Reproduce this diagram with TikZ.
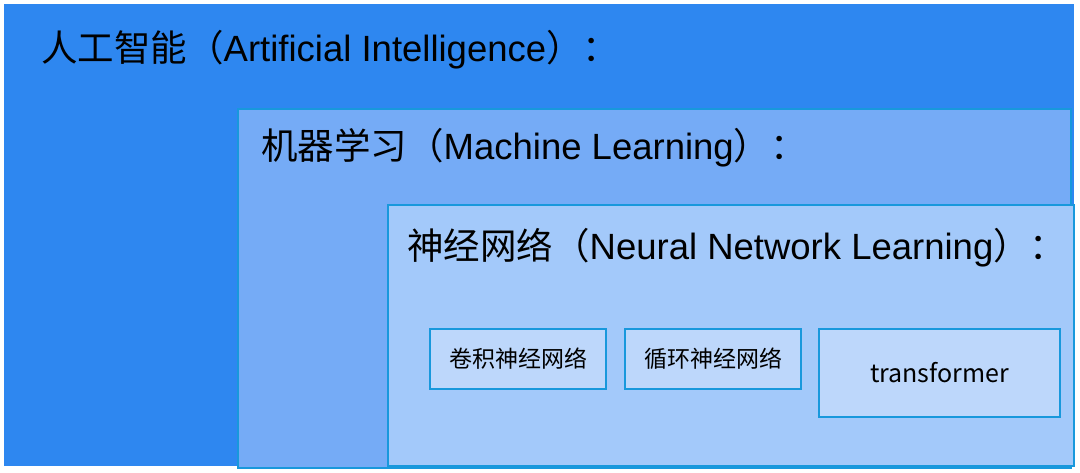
\documentclass[tikz,border=0pt]{standalone}
\usepackage{fontspec}
\setmainfont{Liberation Sans}
\newfontfamily\cjk{Noto Sans CJK SC}
\usepackage{xcolor}
\definecolor{AIBlue}{RGB}{46,135,240}
\definecolor{MLBlue}{RGB}{117,171,246}
\definecolor{NNBlue}{RGB}{163,201,250}
\definecolor{CellBlue}{RGB}{189,215,251}
\definecolor{EdgeBlue}{RGB}{24,152,220}

\begin{document}
\begin{tikzpicture}[x=1pt, y=-1pt]
        \tikzstyle{layer} = [rectangle, anchor=north west, inner sep=0pt]
        \tikzstyle{title} = [anchor=base west, inner sep=0pt, font=\fontsize{36.5}{40}\selectfont]
        \tikzstyle{cell} = [rectangle, draw=EdgeBlue, fill=CellBlue, line width=1.8pt,
          font=\cjk\fontsize{23}{26}\selectfont]

        \useasboundingbox (0,0) rectangle (1080,473);

        \node[layer, fill=AIBlue, minimum width=1070pt, minimum height=462pt] (ai) at (4,4) {};
        \node[layer, fill=MLBlue, draw=EdgeBlue, line width=1.8pt,
          minimum width=833pt, minimum height=359pt] (ml) at (237,108) {};
        \node[layer, fill=NNBlue, draw=EdgeBlue, line width=1.8pt,
          minimum width=686pt, minimum height=261pt] (nn) at (387,204) {};

        \node[title] (aititle) at (41,62) {{\cjk 人工智能（}Artificial Intelligence{\cjk ）：}};
        \node[title] (mltitle) at (261,160) {{\cjk 机器学习（}Machine Learning{\cjk ）：}};
        \node[title] (nntitle) at (407,260) {{\cjk 神经网络（}Neural Network Learning{\cjk ）：}};

        \node[cell, minimum width=176pt, minimum height=60pt] (cnn) at (518,359) {卷积神经网络};
        \node[cell, minimum width=176pt, minimum height=60pt] (rnn) at (713,359) {循环神经网络};
        \node[cell, minimum width=241pt, minimum height=88pt,
          font=\cjk\fontsize{25}{30}\selectfont] (trf) at (939.5,373) {transformer};
      \end{tikzpicture}
\end{document}
